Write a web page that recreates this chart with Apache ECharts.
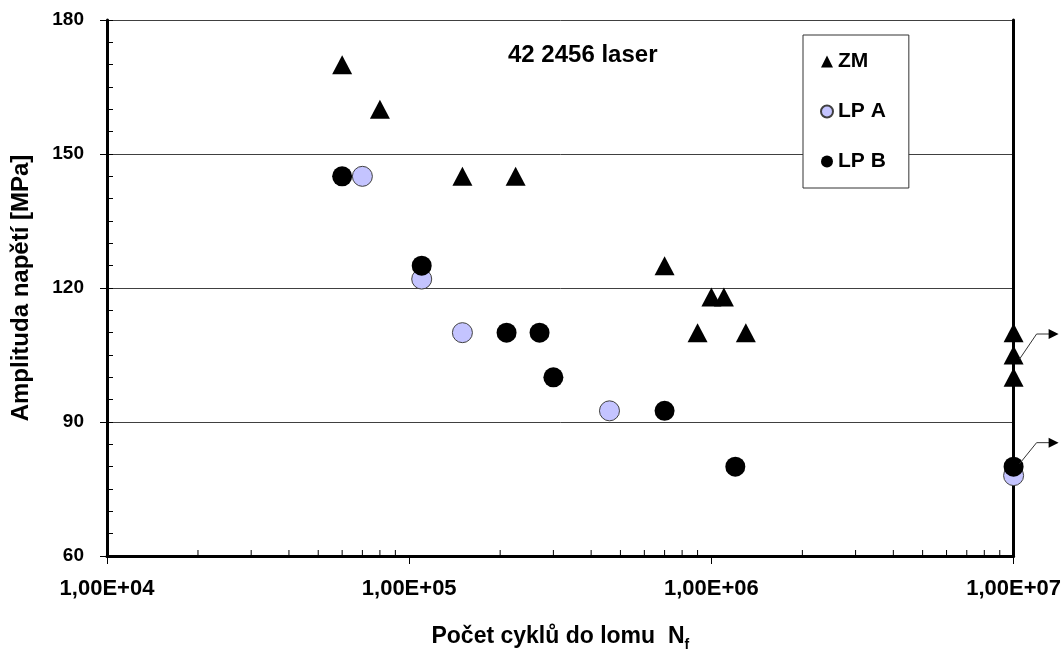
<!DOCTYPE html>
<html>
<head>
<meta charset="utf-8">
<script src="https://cdn.jsdelivr.net/npm/echarts@6/dist/echarts.min.js"></script>
<style>
  html, body { margin: 0; padding: 0; background: #fff; }
  #chart { width: 1064px; height: 657px; }
</style>
</head>
<body>
<div id="chart"></div>
<script>
// Fatigue test results, steel 42 2456, laser welded: cycles to failure vs stress amplitude
const zmCycles  = [6e4, 8e4, 1.5e5, 2.25e5, 7e5, 9e5, 1e6, 1.1e6, 1.3e6, 1e7, 1e7, 1e7];
const zmStress  = [170, 160, 145, 145, 125, 110, 118, 118, 110, 110, 105, 100];

const lpaCycles = [7e4, 1.1e5, 1.5e5, 4.6e5, 1e7];
const lpaStress = [145, 122, 110, 92.5, 78];

const lpbCycles = [6e4, 1.1e5, 2.1e5, 2.7e5, 3e5, 7e5, 1.2e6, 1e7];
const lpbStress = [145, 125, 110, 110, 100, 92.5, 80, 80];

const seriesNames = ['ZM', 'LP A', 'LP B'];
const chartTitle = '42 2456 laser';
const yAxisTitle = 'Amplituda napětí [MPa]';
const xAxisTitle = 'Počet cyklů do lomu  N';
const xAxisSub = 'f';

// run-outs (specimens that did not fail) marked with an arrow
const runOuts = [[1e7, 105, 4, -21], [1e7, 80, -3, -24]];

const FONT = '"Liberation Sans", Arial, sans-serif';

// logarithmic minor tick positions 2..9 within each decade
const minorX = [];
for (let d = 4; d < 7; d++) for (let k = 2; k <= 9; k++) minorX.push([k * Math.pow(10, d)]);

const zip = (xs, ys) => xs.map((x, i) => [x, ys[i]]);

const fmtSci = v => {
  const e = Math.round(Math.log10(v));
  const m = v / Math.pow(10, e);
  return m.toFixed(2).replace('.', ',') + 'E+' + String(e).padStart(2, '0');
};

const chart = echarts.init(document.getElementById('chart'), null, { renderer: 'canvas' });

chart.setOption({
  animation: false,
  backgroundColor: '#fff',
  textStyle: { fontFamily: FONT },
  grid: { left: 107, right: 49, top: 20, bottom: 94, containLabel: false },
  legend: {
    data: seriesNames,
    orient: 'vertical',
    left: 803, top: 35,
    padding: [16, 23, 16, 17],
    itemGap: 29,
    itemWidth: 12, itemHeight: 12,
    backgroundColor: '#fff',
    borderColor: '#333', borderWidth: 1,
    textStyle: { fontFamily: FONT, fontWeight: 'bold', fontSize: 21, color: '#000' },
    z: 10
  },
  xAxis: [{
    type: 'log', logBase: 10, min: 1e4, max: 1e7,
    name: '{a|' + xAxisTitle + '}{s|' + xAxisSub + '}',
    nameLocation: 'middle', nameGap: 69,
    nameTextStyle: {
      rich: {
        a: { fontFamily: FONT, fontWeight: 'bold', fontSize: 23, color: '#000', verticalAlign: 'top' },
        s: { fontFamily: FONT, fontWeight: 'bold', fontSize: 14, color: '#000', verticalAlign: 'bottom', padding: [13, 0, 0, 0] }
      }
    },
    axisLine: { show: true, onZero: false, lineStyle: { color: '#000', width: 3 } },
    axisTick: { show: true, inside: false, length: 8, lineStyle: { color: '#000', width: 1 } },
    axisLabel: { formatter: fmtSci, margin: 22, fontFamily: FONT, fontWeight: 'bold', fontSize: 22, color: '#000', showMinLabel: true, showMaxLabel: true },
    splitLine: { show: false },
    minorTick: { show: false }
  }],
  yAxis: [{
    type: 'value', min: 60, max: 180, interval: 30,
    name: yAxisTitle,
    nameLocation: 'middle', nameGap: 74, nameRotate: 90,
    nameTextStyle: { fontFamily: FONT, fontWeight: 'bold', fontSize: 24, color: '#000' },
    axisLine: { show: true, lineStyle: { color: '#000', width: 3 } },
    axisTick: { show: true, inside: false, length: 7, lineStyle: { color: '#000', width: 1 } },
    axisLabel: { margin: 23, fontFamily: FONT, fontWeight: 'bold', fontSize: 19, color: '#000' },
    splitLine: { show: true, lineStyle: { color: '#404040', width: 1 } }
  }, {
    // inner minor ticks every 5 MPa
    type: 'value', min: 60, max: 180, interval: 5, position: 'left',
    axisLine: { show: false },
    axisTick: { show: true, inside: true, length: 6, lineStyle: { color: '#000', width: 1 } },
    axisLabel: { show: false },
    splitLine: { show: false }
  }, {
    // right border of the plot area
    type: 'value', min: 60, max: 180, interval: 30, position: 'right',
    axisLine: { show: true, lineStyle: { color: '#000', width: 3 } },
    axisTick: { show: false },
    axisLabel: { show: false },
    splitLine: { show: false }
  }],
  series: [{
    name: 'ZM', type: 'scatter',
    data: zip(zmCycles, zmStress),
    symbol: 'triangle', symbolSize: [20, 19],
    itemStyle: { color: '#000', opacity: 1 },
    z: 3
  }, {
    name: 'LP A', type: 'scatter',
    data: zip(lpaCycles, lpaStress),
    symbol: 'circle', symbolSize: 20,
    itemStyle: { color: '#C4C4FF', borderColor: '#404040', borderWidth: 1, opacity: 1 },
    z: 4
  }, {
    name: 'LP B', type: 'scatter',
    data: zip(lpbCycles, lpbStress),
    symbol: 'circle', symbolSize: 20,
    itemStyle: { color: '#000', opacity: 1 },
    z: 5
  }, {
    // logarithmic minor ticks on the cycle axis (pointing into the plot)
    name: 'minorTicks', type: 'custom',
    data: minorX,
    silent: true,
    clip: false,
    renderItem: (params, api) => {
      const p = api.coord([api.value(0), 60]);
      return {
        type: 'line',
        shape: { x1: p[0], y1: p[1], x2: p[0], y2: p[1] - 6 },
        style: { stroke: '#000', lineWidth: 1 }
      };
    },
    z: 1
  }]
});

// chart title and arrows marking run-out specimens
const graphics = [{
  type: 'text', id: 'title', left: 508, top: 43, z: 10,
  style: { text: chartTitle, fontFamily: FONT, fontWeight: 'bold', fontSize: 24, fill: '#000', lineWidth: 0 }
}];
runOuts.forEach(([n, s, sy, dy], i) => {
  const p = chart.convertToPixel({ xAxisIndex: 0, yAxisIndex: 0 }, [n, s]);
  const x0 = p[0], y0 = p[1];
  graphics.push({
    type: 'polyline', id: 'runout-line-' + i, z: 20,
    shape: { points: [[x0 + 6, y0 + sy], [x0 + 23, y0 + dy], [x0 + 36, y0 + dy]] },
    style: { stroke: '#333', lineWidth: 1, fill: null }
  });
  graphics.push({
    type: 'polygon', id: 'runout-head-' + i, z: 20,
    shape: { points: [[x0 + 35, y0 + dy - 5], [x0 + 45, y0 + dy], [x0 + 35, y0 + dy + 5]] },
    style: { fill: '#000' }
  });
});
chart.setOption({ graphic: graphics });
</script>
</body>
</html>
